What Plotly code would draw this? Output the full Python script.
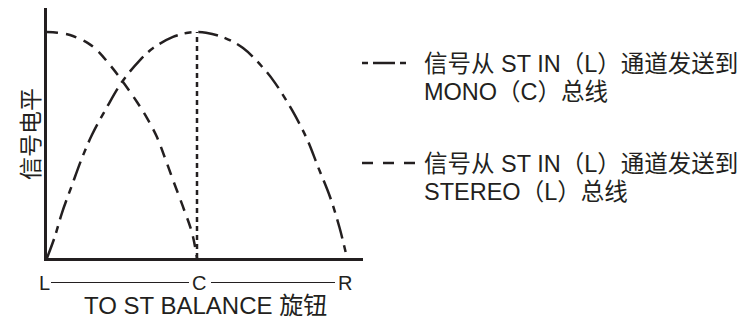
import plotly.graph_objects as go

INK = "#231f20"
FONT = "Liberation Sans, Arial, Noto Sans CJK SC, sans-serif"

# knob position: L = -1, C = 0, R = 1 ; level normalised to 1 at the peak
mono_x = [-1.0, -0.95, -0.9, -0.833, -0.767, -0.7, -0.6, -0.5, -0.38, -0.29, -0.16, -0.06, 0.0,
          0.06, 0.173, 0.307, 0.453, 0.52, 0.633, 0.733, 0.807, 0.887, 0.95, 1.0]
mono_y = [0.0, 0.09, 0.2, 0.323, 0.442, 0.545, 0.668, 0.779, 0.876, 0.93, 0.978, 0.997, 1.0,
          0.997, 0.977, 0.929, 0.832, 0.775, 0.655, 0.527, 0.403, 0.27, 0.135, 0.0]

stereo_x = [-1.0, -0.93, -0.847, -0.793, -0.727, -0.667, -0.58, -0.493, -0.4, -0.333,
            -0.267, -0.213, -0.16, -0.093, -0.033, 0.0]
stereo_y = [1.0, 0.997, 0.987, 0.973, 0.951, 0.92, 0.854, 0.779, 0.69, 0.619,
            0.535, 0.442, 0.345, 0.226, 0.111, 0.0]

center_x = [0.0, 0.0]
center_y = [0.0, 1.0]

knob_pos = [-1, 0, 1]
knob_text = ["L", "C", "R"]

legend_lines = [["信号从 ST IN（L）通道发送到", "MONO（C）总线"],
                ["信号从 ST IN（L）通道发送到", "STEREO（L）总线"]]

MONO_DASH = "20px,7px,7px,7px"
STEREO_DASH = "11px,8px"

# the page body has an 8px margin: work in page pixels, shift into figure pixels
OFF = 8
W, H = 753 - OFF, 322 - OFF
L, R, T, B = 47, 363, OFF, 258   # plot area, page pixels
PEAK_Y, C_X = 32, 197


def px(x):
    return (x - L) / (R - L)


def py(y):
    return (B - y) / (B - T)


fig = go.Figure()
fig.add_trace(go.Scatter(x=mono_x, y=mono_y, mode="lines", line_shape="spline",
                         line=dict(color=INK, width=2.5, dash=MONO_DASH), hoverinfo="skip"))
fig.add_trace(go.Scatter(x=stereo_x, y=stereo_y, mode="lines", line_shape="spline",
                         line=dict(color=INK, width=2.5, dash=STEREO_DASH), hoverinfo="skip"))
fig.add_trace(go.Scatter(x=center_x, y=center_y, mode="lines",
                         line=dict(color=INK, width=2.5, dash="5px,4px"), hoverinfo="skip"))

ann = []
# L —— C —— R scale under the axis
for v, t, dx in zip(knob_pos, knob_text, [-3, 2, -2]):
    ann.append(dict(x=v, xref="x", y=py(282.5), yref="paper", text=t, showarrow=False,
                    xshift=dx, xanchor="center", yanchor="middle",
                    font=dict(size=20, color=INK)))
shapes = [
    dict(type="line", xref="paper", yref="paper", x0=px(51), x1=px(189),
         y0=py(282.5), y1=py(282.5), line=dict(color=INK, width=1.2)),
    dict(type="line", xref="paper", yref="paper", x0=px(211), x1=px(335),
         y0=py(282.5), y1=py(282.5), line=dict(color=INK, width=1.2)),
]

ann.append(dict(x=px(205), y=py(305), xref="paper", yref="paper", text="TO ST BALANCE 旋钮",
                showarrow=False, xanchor="center", yanchor="middle",
                font=dict(size=24, color=INK)))
ann.append(dict(x=px(31), y=py(134), xref="paper", yref="paper", text="信号电平",
                textangle=-90, showarrow=False, xanchor="center", yanchor="middle",
                font=dict(size=23, color=INK)))

# hand-made legend
for lines, ys, dash in [(legend_lines[0], [64, 92], "6px,5px,22px,5px,6px,30px"),
                        (legend_lines[1], [164, 192], "11px,10px")]:
    for txt, yc in zip(lines, ys):
        ann.append(dict(x=px(422), y=py(yc), xref="paper", yref="paper", text=txt,
                        showarrow=False, xanchor="left", yanchor="middle",
                        font=dict(size=23.5, color=INK)))
    shapes.append(dict(type="line", xref="paper", yref="paper", x0=px(362), x1=px(415),
                       y0=py(ys[0] - 1), y1=py(ys[0] - 1),
                       line=dict(color=INK, width=2.5, dash=dash)))

fig.update_layout(
    width=W, height=H, showlegend=False,
    plot_bgcolor="white", paper_bgcolor="white",
    margin=dict(l=L - OFF, r=W - (R - OFF), t=T - OFF, b=H - (B - OFF)),
    font=dict(family=FONT, color=INK),
    annotations=ann, shapes=shapes,
    xaxis=dict(range=[-1, (R - C_X) / (C_X - L)], showgrid=False, zeroline=False,
               showticklabels=False, ticks="", showline=True, linecolor=INK, linewidth=2.5),
    yaxis=dict(range=[0, (B - T) / (B - PEAK_Y)], showgrid=False, zeroline=False,
               showticklabels=False, ticks="", showline=True, linecolor=INK, linewidth=2.5),
)

fig.write_html("out.html", config={"displayModeBar": False})
